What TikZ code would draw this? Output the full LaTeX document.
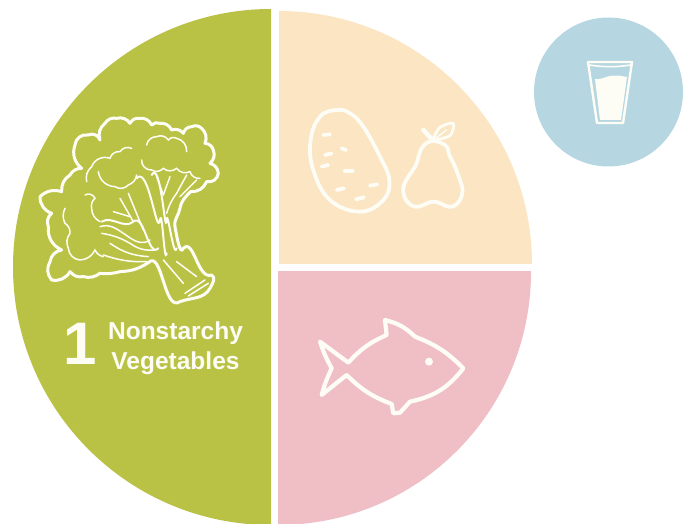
\documentclass[tikz,border=0pt]{standalone}
\usepackage{fontspec}
\setmainfont{Liberation Sans}
\usepackage{tikz}
\definecolor{LeafGreen}{RGB}{185,194,68}
\definecolor{StarchCream}{RGB}{251,229,195}
\definecolor{FishPink}{RGB}{239,191,197}
\definecolor{DrinkBlue}{RGB}{182,215,226}
\definecolor{ChalkWhite}{RGB}{253,253,246}
\tikzset{
  iconline/.style={draw=ChalkWhite, line width=3.8pt, line join=round, line cap=round},
  leafline/.style={draw=ChalkWhite, line width=3pt, line join=round, line cap=round},
  veinline/.style={draw=ChalkWhite, line width=1.5pt, line cap=round},
  zoomed/.style={xscale=0.3333, yscale=0.3333}
}
\begin{document}
\begin{tikzpicture}[x=1pt, y=-1pt]
  \useasboundingbox (0,0) rectangle (689,524);

  % plate
  \begin{scope}
    \clip (0,0) rectangle (271,524);
    \fill[LeafGreen] (271,267) circle (258);
  \end{scope}
  \begin{scope}
    \clip (279,0) rectangle (689,264);
    \fill[StarchCream] (279,264) circle (253);
  \end{scope}
  \begin{scope}
    \clip (278,272) rectangle (689,524);
    \fill[FishPink] (278,272) circle (253);
  \end{scope}
  \fill[DrinkBlue] (608.5,92) circle (74.5);

  % lettuce
  \begin{scope}[shift={(20,80)}, zoomed]
    \draw[leafline] (490,505) to[out=250,in=280] (465,440) to[out=100,in=260] (480,385)
      to[out=80,in=225] (512,335)
      to[bend right=35] (560,305) to[bend right=50] (595,280) to[bend right=35] (570,250)
      to[bend right=35] (580,210) to[bend right=35] (555,190) to[bend right=35] (545,145)
      to[bend right=35] (515,140) to[bend right=35] (490,160) to[bend right=35] (455,150)
      to[bend right=35] (420,130) to[bend right=35] (395,135) to[bend right=35] (360,115)
      to[bend right=35] (330,130) to[bend right=35] (290,115) to[bend right=35] (255,130)
      to[bend right=35] (240,180) to[bend right=50] (205,165) to[bend right=50] (165,195)
      to[bend right=35] (185,265) to[bend right=30] (150,285) to[bend right=30] (125,335)
      to[bend right=30] (60,350) to[bend right=35] (95,400) to[bend right=35] (85,440)
      to[bend right=35] (125,510) to[bend right=35] (90,545) to[bend right=35] (95,600)
      to[bend right=35] (150,575) to[bend right=30] (190,590) to[bend right=25] (240,580)
      to[bend right=10] (300,575) to[bend right=15] (385,548) to[out=45,in=215] (480,665)
      to[out=20,in=240] (570,625) to[out=60,in=330] (575,585) to[out=200,in=45] (490,505);
    \draw[veinline] (495,640) -- (555,600);
    \draw[veinline] (505,648) -- (565,610);
    \draw[veinline] (430,540) -- (490,610);
    \draw[veinline] (470,545) -- (530,590);
    % inner scallops
    \draw[veinline] (200,305) to[bend left=30] (215,260) to[bend left=45] (270,235)
      to[bend left=40] (300,215) to[bend left=40] (335,205) (380,195) to[bend left=40] (410,170)
      to[bend left=40] (445,180) to[bend left=40] (470,175) to[bend left=40] (500,215);
    \draw[veinline] (365,240) to[bend right=50] (395,270) to[bend right=40] (430,265)
      to[bend right=40] (470,265) to[bend right=40] (510,275) to[bend right=40] (540,295);
    \draw[veinline] (235,275) to[bend right=40] (285,320) to[bend right=40] (325,315)
      to[bend right=30] (350,285) (195,345) to[bend left=50] (225,355) to[bend right=30] (215,385)
      to[bend right=30] (240,425);
    \draw[veinline] (135,385) to[bend right=25] (135,430) to[bend left=30] (150,460)
      to[bend right=30] (145,505) to[bend right=40] (180,540) to[bend right=30] (225,510)
      to[bend right=25] (250,530);
    % stalk veins
    \draw[veinline, line width=2pt] (440,520) to[out=260,in=80] (420,420) to[out=260,in=50] (350,295);
    \draw[veinline, line width=2pt] (470,505) to[out=255,in=85] (440,420) to[out=265,in=60] (395,285);
    \draw[veinline] (440,400) to[bend left=10] (470,340) -- (500,285);
    \draw[veinline] (430,345) -- (410,290);
    \draw[veinline] (430,345) -- (450,290);
    \draw[veinline] (480,350) -- (530,300);
    \draw[veinline, line width=2pt] (415,505) to[out=225,in=40] (340,425) to[out=220,in=30] (245,425);
    \draw[veinline] (390,480) to[out=215,in=20] (240,440);
    \draw[veinline] (405,510) to[bend left=20] (330,490) to[bend right=10] (245,460);
    \draw[veinline] (385,530) to[bend left=15] (270,490);
    \draw[veinline] (380,545) to[bend left=10] (250,525);
    \draw[veinline] (340,425) -- (300,355);
    \draw[veinline] (370,450) -- (325,340);
    \draw[veinline] (280,395) -- (330,410);
  \end{scope}

  % potato and pear
  \begin{scope}[shift={(290,90)}, zoomed]
    \draw[iconline] plot[smooth cycle, tension=0.7] coordinates {(140,60) (90,80) (62,150) (70,240)
      (120,330) (210,365) (280,330) (298,270) (270,200) (220,110) (180,70)};
    \foreach \xa/\ya/\xb/\yb in {100/135/120/133, 105/195/125/190, 155/175/168/180, 95/230/115/225,
        165/243/188/243, 140/300/162/295, 240/287/262/283, 198/328/222/322} {
      \draw[iconline] (\xa,\ya) -- (\xb,\yb);
    }
    \draw[iconline] (430,152) to[out=190,in=60] (395,175) to[out=240,in=60] (375,230)
      to[out=240,in=70] (342,285) to[out=250,in=190] (385,350) to[out=10,in=180] (432,335)
      to[out=0,in=170] (475,350) to[out=350,in=290] (515,285) to[out=110,in=-60] (480,200)
      to[out=120,in=-30] (465,165) to[out=150,in=-10] (430,152);
    \draw[iconline, line width=4.6pt] (400,120) -- (428,150);
    \draw[iconline, line width=2.8pt] plot[smooth cycle, tension=0.5] coordinates {(430,148) (450,112)
      (490,100) (482,135) (450,147)};
    \draw[veinline] (430,150) -- (470,120);
  \end{scope}

  % fish
  \begin{scope}[shift={(300,300)}, zoomed]
    \draw[iconline, line width=4.2pt] (60,125) -- (145,188) to[bend left=12] (260,105) -- (255,60)
      to[bend left=15] (345,110) to[bend left=12] (490,205) to[bend left=20] (330,305)
      -- (300,338) -- (280,340) -- (275,312) to[bend left=12] (140,225) -- (65,285)
      to[bend left=5] (95,205) to[bend left=5] (60,125) -- cycle;
    \fill[ChalkWhite] (387,185) circle (12);
  \end{scope}

  % glass of water
  \fill[ChalkWhite] (595,79) to[out=-10,in=190] (610,76) to[out=10,in=170] (627,77)
    -- (621,120) -- (600,120) -- cycle;
  \draw[iconline, line width=2.4pt] (588,62) -- (632,62) -- (623,123) -- (597,123) -- cycle;
  \draw[iconline, line width=1.6pt] (589,65) to[bend right=8] (631,65);

  % label
  \node[text=ChalkWhite, font=\fontsize{60}{60}\selectfont\bfseries, anchor=base] (number) at (80,364) {1};
  \node[text=ChalkWhite, font=\fontsize{24.5}{24.5}\selectfont\bfseries, anchor=base] (firstline) at (175.5,339) {Nonstarchy};
  \node[text=ChalkWhite, font=\fontsize{24.5}{24.5}\selectfont\bfseries, anchor=base] (secondline) at (175.5,369) {Vegetables};
\end{tikzpicture}
\end{document}
